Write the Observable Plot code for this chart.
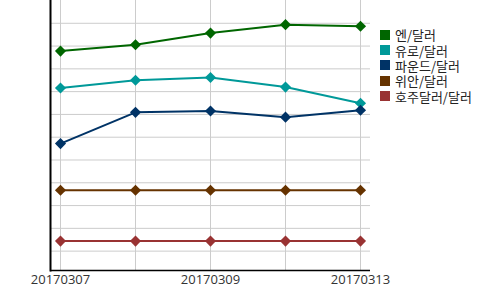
<!DOCTYPE html>
<html>
<head>
<meta charset="utf-8">
<script src="https://cdn.jsdelivr.net/npm/d3@7"></script>
<script src="https://cdn.jsdelivr.net/npm/@observablehq/plot@0.6"></script>
<style>
  body { margin: 0; background: #fff; }
  #wrap { position: relative; width: 500px; height: 290px; }
  #legend { position: absolute; left: 380px; top: 27px; font-family: "Noto Sans CJK KR", sans-serif; font-size: 13px; color: #222; }
  .row { display: flex; align-items: center; height: 15.4px; white-space: nowrap; overflow: visible; }
  .sw { width: 10px; height: 10px; margin-right: 5px; flex: none; }
  .lb { display: inline-block; height: 15px; line-height: 15px; overflow: visible; }
</style>
</head>
<body>
<div id="wrap"><div id="legend"></div></div>
<script>
const dates = ["20170307", "20170308", "20170309", "20170310", "20170313"];
const seriesNames = ["엔/달러", "유로/달러", "파운드/달러", "위안/달러", "호주달러/달러"];
const colors = ["#006600", "#009999", "#003366", "#663300", "#993333"];
const yen   = [9.78, 10.06, 10.57, 10.94, 10.87];
const euro  = [8.16, 8.50, 8.62, 8.20, 7.49];
const pound = [5.72, 7.09, 7.15, 6.88, 7.18];
const yuan  = [3.67, 3.67, 3.67, 3.67, 3.67];
const aud   = [1.44, 1.44, 1.44, 1.44, 1.44];
const labelDates = ["20170307", "20170309", "20170313"];
const gridTicks = [1, 2, 3, 4, 5, 6, 7, 8, 9, 10, 11];

const allSeries = [yen, euro, pound, yuan, aud];
const data = [];
allSeries.forEach((vals, i) => vals.forEach((v, j) => data.push({date: dates[j], series: seriesNames[i], value: v})));

const chart = Plot.plot({
  width: 500,
  height: 290,
  marginLeft: 50,
  marginRight: 130,
  marginTop: 0,
  marginBottom: 20,
  style: {fontFamily: "'Open Sans', sans-serif", fontSize: "13px", color: "#333", background: "#fff"},
  x: {type: "point", domain: dates, padding: 0.1333, label: null},
  y: {domain: [0.15, 12.0], label: null, axis: null},
  color: {domain: seriesNames, range: colors},
  marks: [
    Plot.gridX(dates, {stroke: "#ccc", strokeOpacity: 1}),
    Plot.gridY(gridTicks, {stroke: "#ccc", strokeOpacity: 1}),
    Plot.axisX({ticks: labelDates, tickSize: 0, tickPadding: 4, label: null, fontSize: 13}),
    Plot.line(data, {x: "date", y: "value", z: "series", stroke: "series", strokeWidth: 2}),
    Plot.dot(data, {x: "date", y: "value", fill: "series", symbol: "diamond2", r: 5, stroke: null}),
    Plot.ruleY([0.15], {stroke: "#000", strokeWidth: 1.5}),
    Plot.frame({anchor: "left", stroke: "#000", strokeWidth: 2})
  ]
});
const wrap = document.getElementById("wrap");
wrap.insertBefore(chart, wrap.firstChild);

const legend = document.getElementById("legend");
seriesNames.forEach((n, i) => {
  const row = document.createElement("div");
  row.className = "row";
  row.innerHTML = `<span class="sw" style="background:${colors[i]}"></span><span class="lb">${n}</span>`;
  legend.appendChild(row);
});
</script>
</body>
</html>
